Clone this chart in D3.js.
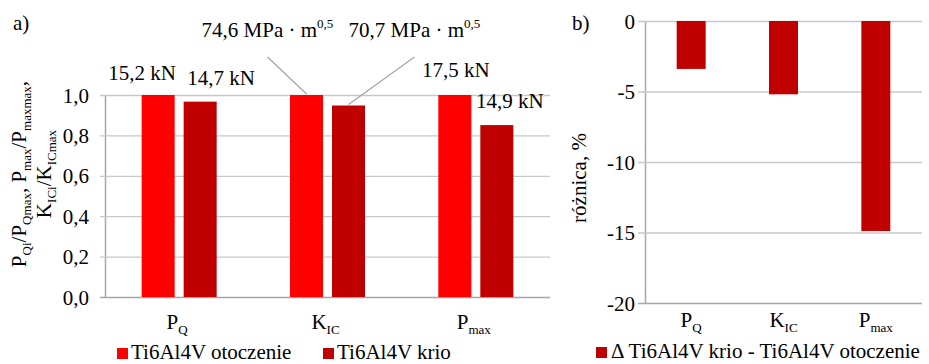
<!DOCTYPE html>
<html>
<head>
<meta charset="utf-8">
<script src="https://cdn.jsdelivr.net/npm/d3@7"></script>
<style>
  body { margin: 0; background: #fff; }
  svg { display: block; }
  text { font-family: "Liberation Serif", "Times New Roman", serif; fill: #000; }
</style>
</head>
<body>
<svg id="chart" width="929" height="364"></svg>
<script>
// data
const categories = ["P_{Q}", "K_{IC}", "P_{max}"];
const seriesNames = ["Ti6Al4V otoczenie", "Ti6Al4V krio"];
const ambientRel = [1.0, 1.0, 1.0];
const cryoRel = [0.967, 0.948, 0.851];
const ambientLabels = ["15,2 kN", "74,6 MPa · m^{0,5}", "17,5 kN"];
const cryoLabels = ["14,7 kN", "70,7 MPa · m^{0,5}", "14,9 kN"];
const diffName = "Δ Ti6Al4V krio - Ti6Al4V otoczenie";
const diffValues = [-3.4, -5.2, -14.9];
const ticksA = [0, 0.2, 0.4, 0.6, 0.8, 1.0];
const ticksB = [0, -5, -10, -15, -20];

const colors = ["#FF0000", "#C00000"];
const gridColor = "#C8C8C8";
const axisColor = "#A6A6A6";
const fs = 21;

const locale = d3.formatLocale({decimal: ",", thousands: " ", grouping: [3], currency: ["", ""], minus: "-"});
const fmtA = locale.format(".1f");
const fmtB = locale.format("d");

const svg = d3.select("#chart");

// splits "P_{Q}" / "m^{0,5}" into tspans with sub/superscripts
function rich(text, str, size) {
  const parts = str.split(/([_^]\{[^}]*\})/).filter(s => s.length);
  let off = 0;
  parts.forEach(p => {
    let t = p, target = 0, s = size;
    if (p[0] === "_") { t = p.slice(2, -1); target = size * 0.22; s = size * 0.62; }
    else if (p[0] === "^") { t = p.slice(2, -1); target = -size * 0.42; s = size * 0.62; }
    text.append("tspan").attr("dy", target - off).style("font-size", s + "px").text(t);
    off = target;
  });
}

// ---------- panel a ----------
const a = {left: 105, right: 550, top: 95, bottom: 297};
const xA = d3.scaleBand().domain(categories).range([a.left, a.right]);
const yA = d3.scaleLinear().domain([0, 1]).range([a.bottom, a.top]);
const pairW = 75;
const xInner = d3.scaleBand().domain(seriesNames).range([-pairW / 2, pairW / 2]).paddingInner(0.214);

const gA = svg.append("g");

// y axis + gridlines
gA.append("g")
  .attr("transform", `translate(${a.left},0)`)
  .call(d3.axisLeft(yA).tickValues(ticksA).tickFormat(fmtA)
    .tickSizeInner(-(a.right - a.left)).tickSizeOuter(0).tickPadding(16))
  .call(g => g.select(".domain").attr("stroke", axisColor).attr("stroke-width", 1.5))
  .call(g => g.selectAll(".tick line").attr("x1", -5)
    .attr("stroke", (d) => d === 0 ? axisColor : gridColor).attr("stroke-width", d => d === 0 ? 1.5 : 1.3))
  .call(g => g.selectAll(".tick text").style("font-size", fs + "px").attr("dy", "0.34em"));

const barsA = categories.map((c, i) => [
  {cat: c, s: seriesNames[0], v: ambientRel[i], label: ambientLabels[i]},
  {cat: c, s: seriesNames[1], v: cryoRel[i], label: cryoLabels[i]}
]).flat();

gA.selectAll("rect.bar")
  .data(barsA)
  .enter()
  .append("rect")
    .attr("class", "bar")
    .attr("x", d => xA(d.cat) + xA.bandwidth() / 2 + xInner(d.s))
    .attr("width", xInner.bandwidth())
    .attr("y", d => yA(d.v))
    .attr("height", d => yA(0) - yA(d.v))
    .attr("fill", d => d.s === seriesNames[0] ? colors[0] : colors[1]);

// x category labels
categories.forEach(c => {
  const t = gA.append("text")
    .attr("x", xA(c) + xA.bandwidth() / 2 - 2)
    .attr("y", 329)
    .attr("text-anchor", "middle")
    .style("font-size", fs + "px");
  rich(t, c, fs);
});

// data labels (offsets from bar top centre), KIC ones sit higher with leader lines
const labelPos = [
  {dx: -16, dy: -15, line: false},
  {dx: 21, dy: -17, line: false},
  {dx: -39, y: 37, line: true},
  {dx: 66, y: 37, line: true},
  {dx: 1, dy: -18, line: false},
  {dx: 13, dy: -17, line: false}
];
barsA.forEach((d, i) => {
  const cx = xA(d.cat) + xA.bandwidth() / 2 + xInner(d.s) + xInner.bandwidth() / 2;
  const top = yA(d.v);
  const p = labelPos[i];
  const lx = cx + p.dx;
  const ly = p.line ? p.y : top + p.dy;
  if (p.line) {
    gA.append("line")
      .attr("x1", lx).attr("y1", ly + 20)
      .attr("x2", cx).attr("y2", top - 1)
      .attr("stroke", axisColor).attr("stroke-width", 1.3);
  }
  const t = gA.append("text")
    .attr("x", lx).attr("y", ly)
    .attr("text-anchor", "middle")
    .style("font-size", fs + "px");
  rich(t, d.label, fs);
});

// y title, two rotated lines
const titleA = ["P_{Qi}/P_{Qmax}, P_{max}/P_{maxmax},", "K_{ICi}/K_{ICmax}"];
titleA.forEach((s, i) => {
  const t = gA.append("text")
    .attr("transform", `translate(${26 + i * 25},174) rotate(-90)`)
    .attr("text-anchor", "middle")
    .style("font-size", fs + "px");
  rich(t, s, fs);
});

gA.append("text").attr("x", 13).attr("y", 30).style("font-size", fs + "px").text("a)");

// legend a
const legA = [{name: seriesNames[0], x: 117}, {name: seriesNames[1], x: 323}];
legA.forEach((d, i) => {
  gA.append("rect").attr("x", d.x).attr("y", 348).attr("width", 11).attr("height", 11).attr("fill", colors[i]);
  gA.append("text").attr("x", d.x + 14).attr("y", 359).style("font-size", fs + "px").text(d.name);
});

// ---------- panel b ----------
const b = {left: 645, right: 922, top: 21, bottom: 303};
const xB = d3.scaleBand().domain(categories).range([b.left, b.right]);
const yB = d3.scaleLinear().domain([-20, 0]).range([b.bottom, b.top]);
const barWB = 29;

const gB = svg.append("g");

gB.append("g")
  .attr("transform", `translate(${b.left},0)`)
  .call(d3.axisLeft(yB).tickValues(ticksB).tickFormat(fmtB)
    .tickSizeInner(-(b.right - b.left)).tickSizeOuter(0).tickPadding(10))
  .call(g => g.select(".domain").attr("stroke", axisColor).attr("stroke-width", 1.5))
  .call(g => g.selectAll(".tick line").attr("x1", -7)
    .attr("stroke", d => d === -20 ? axisColor : gridColor).attr("stroke-width", d => d === -20 ? 1.5 : 1.3))
  .call(g => g.selectAll(".tick text").style("font-size", fs + "px").attr("dy", "0.34em"));

gB.selectAll("rect.bar")
  .data(diffValues)
  .enter()
  .append("rect")
    .attr("class", "bar")
    .attr("x", (d, i) => xB(categories[i]) + xB.bandwidth() / 2 - barWB / 2)
    .attr("width", barWB)
    .attr("y", yB(0))
    .attr("height", d => yB(d) - yB(0))
    .attr("fill", colors[1]);

categories.forEach(c => {
  const t = gB.append("text")
    .attr("x", xB(c) + xB.bandwidth() / 2)
    .attr("y", 327)
    .attr("text-anchor", "middle")
    .style("font-size", fs + "px");
  rich(t, c, fs);
});

gB.append("text")
  .attr("transform", "translate(586,178) rotate(-90)")
  .attr("text-anchor", "middle")
  .style("font-size", fs + "px")
  .text("różnica, %");

gB.append("text").attr("x", 572).attr("y", 30).style("font-size", fs + "px").text("b)");

gB.append("rect").attr("x", 596).attr("y", 347).attr("width", 11).attr("height", 11).attr("fill", colors[1]);
gB.append("text").attr("x", 611).attr("y", 358).style("font-size", fs + "px").text(diffName);
</script>
</body>
</html>
